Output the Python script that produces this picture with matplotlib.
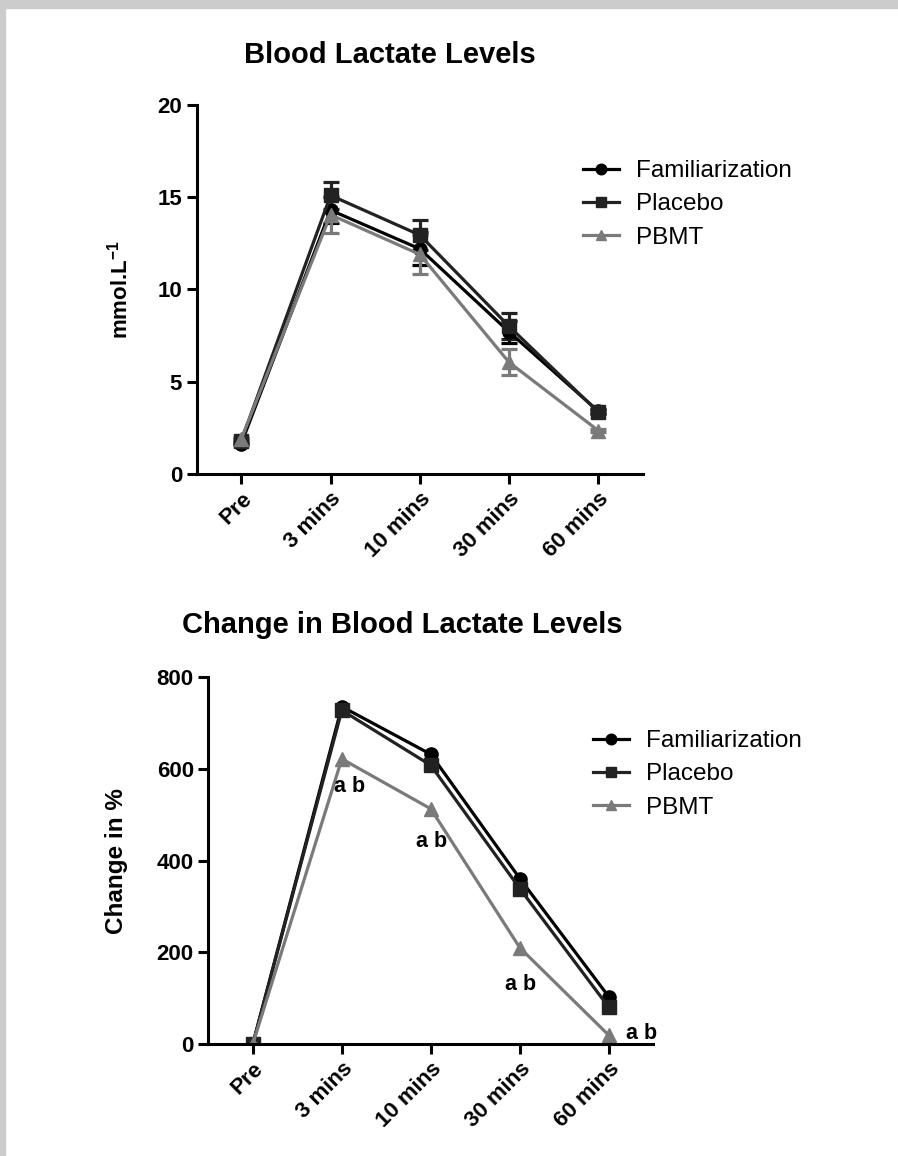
import numpy as np
import matplotlib
matplotlib.use('Agg')
import matplotlib.pyplot as plt
from matplotlib.patches import Rectangle

plt.rcParams['font.family'] = ['Liberation Sans', 'DejaVu Sans']
plt.rcParams['mathtext.fontset'] = 'custom'
plt.rcParams['mathtext.rm'] = 'Liberation Sans'
plt.rcParams['mathtext.bf'] = 'Liberation Sans:bold'

# === Dados ===
tempos = ['Pre', '3 mins', '10 mins', '30 mins', '60 mins']
grupos = ['Familiarization', 'Placebo', 'PBMT']

lact_fam = [1.65, 14.3, 12.2, 7.7, 3.4]
lact_pla = [1.8, 15.1, 12.95, 8.0, 3.35]
lact_pbmt = [1.9, 14.05, 11.9, 6.05, 2.35]

err_fam = [0.1, 0.7, 0.9, 0.6, 0.1]
err_pla = [0.1, 0.75, 0.8, 0.7, 0.1]
err_pbmt = [0.1, 1.0, 1.05, 0.7, 0.1]

delta_fam = [0, 736, 632, 361, 103]
delta_pla = [0, 728, 608, 339, 80]
delta_pbmt = [0, 622, 513, 210, 19]

sig_label = 'a b'

cores = ['#000000', '#222222', '#7a7a7a']
marcadores = ['o', 's', '^']

fig = plt.figure(figsize=(8.98, 11.56), dpi=100)
W, H = 898, 1156

# moldura cinza (topo e esquerda)
fig.patches.append(Rectangle((0, 1 - 8 / H), 1, 8 / H, transform=fig.transFigure,
                             color='#cccccc', zorder=0))
fig.patches.append(Rectangle((0, 0), 5 / W, 1, transform=fig.transFigure,
                             color='#cccccc', zorder=0))

x = np.arange(len(tempos))
leg_kw = dict(loc='upper left', frameon=False, fontsize=17.5, handlelength=1.5,
              labelspacing=0.47, handletextpad=0.66, borderpad=0, borderaxespad=0,
              markerscale=0.8, bbox_transform=fig.transFigure)


def estilo_eixo(ax):
    ax.spines['top'].set_visible(False)
    ax.spines['right'].set_visible(False)
    for s in ('left', 'bottom'):
        ax.spines[s].set_linewidth(2.2)
    ax.tick_params(width=2.2, length=7, labelsize=16)
    ax.set_xlim(-0.5, 4.5)
    ax.set_xticks(x)
    ax.set_xticklabels(tempos, rotation=45, ha='right', rotation_mode='anchor',
                       fontweight='bold')
    for lbl in ax.get_yticklabels():
        lbl.set_fontweight('bold')


# === Gráfico 1: lactato ===
ax1 = fig.add_axes([0.219, 0.590, 0.497, 0.3192])
series1 = [lact_fam, lact_pla, lact_pbmt]
erros1 = [err_fam, err_pla, err_pbmt]
for nome, y, e, c, m in zip(grupos, series1, erros1, cores, marcadores):
    ax1.errorbar(x, y, yerr=e, color=c, marker=m, markersize=9.5, linewidth=2.3,
                 elinewidth=2.3, capsize=6, capthick=2.3, label=nome)
ax1.set_ylim(0, 20)
ax1.set_yticks([0, 5, 10, 15, 20])
estilo_eixo(ax1)
ax1.set_ylabel(r'mmol.L$^{\mathbf{-1}}$', fontsize=16, fontweight='bold')
ax1.yaxis.set_label_coords(-0.143, 0.5)
handles, labels = ax1.get_legend_handles_labels()
handles = [h[0] for h in handles]
ax1.legend(handles, labels, bbox_to_anchor=(583 / W, 1 - 160 / H), **leg_kw)
fig.text(390 / W, 1 - 55 / H, 'Blood Lactate Levels', ha='center', va='center',
         fontsize=21, fontweight='bold')

# === Gráfico 2: variação percentual ===
ax2 = fig.add_axes([0.232, 0.0969, 0.4955, 0.3172])
series2 = [delta_fam, delta_pla, delta_pbmt]
for nome, y, c, m in zip(grupos, series2, cores, marcadores):
    ax2.plot(x, y, color=c, marker=m, markersize=9.5, linewidth=2.3, label=nome)
ax2.set_ylim(0, 800)
ax2.set_yticks([0, 200, 400, 600, 800])
estilo_eixo(ax2)
ax2.set_ylabel('Change in %', fontsize=17.5, fontweight='bold')
ax2.yaxis.set_label_coords(-0.18, 0.5)
ax2.legend(bbox_to_anchor=(593 / W, 1 - 730 / H), **leg_kw)

# anotações de significância
desloc = [(0, 0), (0.09, -61), (0.01, -72), (0.01, -81), (0.37, 3)]
for i in range(1, len(tempos)):
    dx, dy = desloc[i]
    ax2.text(x[i] + dx, delta_pbmt[i] + dy, sig_label, ha='center', va='center',
             fontsize=15.5, fontweight='bold')

fig.text(402 / W, 1 - 625 / H, 'Change in Blood Lactate Levels', ha='center',
         va='center', fontsize=21, fontweight='bold')

fig.savefig('out.png', dpi=100)
